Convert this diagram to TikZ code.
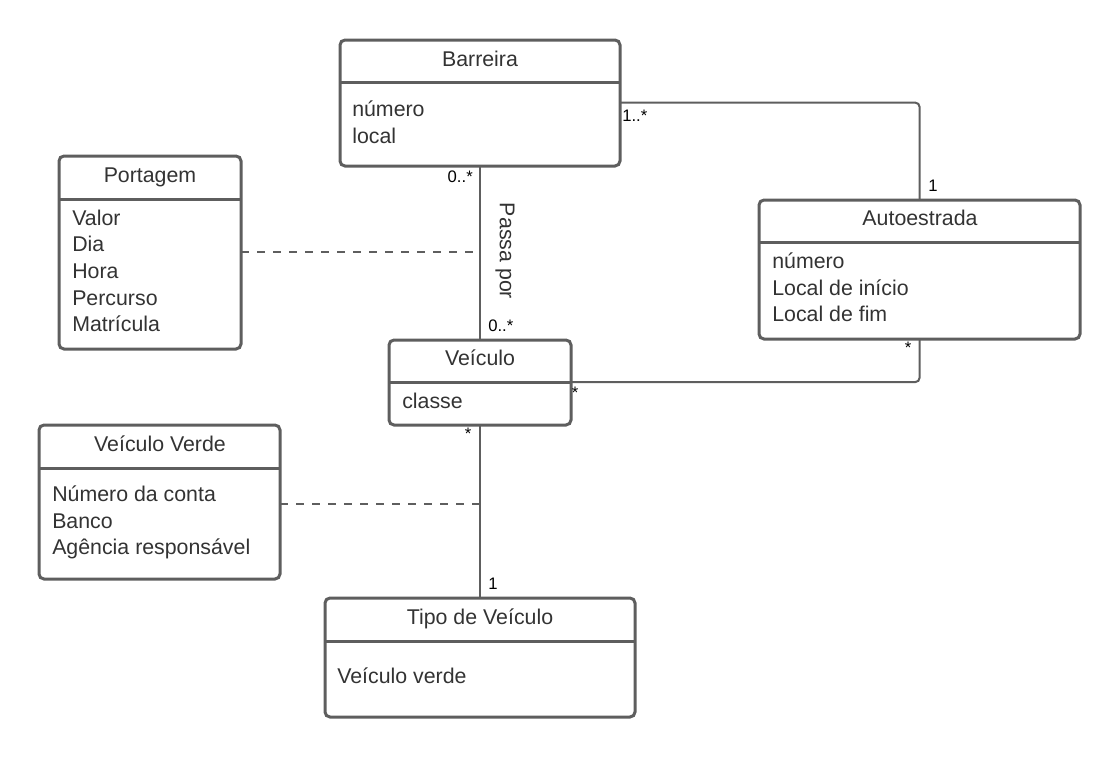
\documentclass[tikz,border=0pt]{standalone}
\usepackage{fontspec}
\setmainfont{Liberation Sans}
\definecolor{linec}{HTML}{5E5E5E}
\definecolor{textc}{HTML}{333333}
\begin{document}
\begin{tikzpicture}[x=0.75pt,y=-0.75pt,
  boxst/.style={draw=linec, line width=2.25pt, rounded corners=3.75pt, fill=white,
     inner sep=0pt, outer sep=0pt, anchor=north west},
  divst/.style={draw=linec, line width=2.25pt},
  conn/.style={draw=linec, line width=1.5pt},
  dashconn/.style={draw=linec, line width=1.5pt, dash pattern=on 6pt off 6pt},
  ttl/.style={text=textc, font=\fontsize{16}{20}\selectfont, anchor=base, inner sep=0pt},
  attr/.style={text=textc, font=\fontsize{16}{20.25}\selectfont, anchor=base west, inner sep=0pt},
  mult/.style={text=black, font=\fontsize{12.5}{15}\selectfont, inner sep=0pt}
]
\useasboundingbox (0,0) rectangle (1120,758);
\fill[white] (0,0) rectangle (1120,758);

% ---------- boxes ----------
\node[boxst, minimum width={280*0.75pt}, minimum height={126*0.75pt}] (barreira) at (340,40) {};
\node[boxst, minimum width={182*0.75pt}, minimum height={193*0.75pt}] (portagem) at (59,156) {};
\node[boxst, minimum width={321*0.75pt}, minimum height={139*0.75pt}] (auto) at (759,200) {};
\node[boxst, minimum width={182*0.75pt}, minimum height={85*0.75pt}] (veiculo) at (389,340) {};
\node[boxst, minimum width={241*0.75pt}, minimum height={154*0.75pt}] (verde) at (39,425) {};
\node[boxst, minimum width={310*0.75pt}, minimum height={119*0.75pt}] (tipo) at (325,598) {};

% dividers
\draw[divst] (barreira.north west) ++(0,42) -- ++(280,0);
\draw[divst] (portagem.north west) ++(0,43) -- ++(182,0);
\draw[divst] (auto.north west) ++(0,42) -- ++(321,0);
\draw[divst] (veiculo.north west) ++(0,42) -- ++(182,0);
\draw[divst] (verde.north west) ++(0,43) -- ++(241,0);
\draw[divst] (tipo.north west) ++(0,43) -- ++(310,0);

% ---------- texts ----------
\node[ttl] (tb) at (480,66) {Barreira};
\node[attr] (b1) at (352,116) {número};
\node[attr] (b2) at (352,143) {local};

\node[ttl] (tp) at (150,182) {Portagem};
\node[attr] (p1) at (72,225) {Valor};
\node[attr] (p2) at (72,251.5) {Dia};
\node[attr] (p3) at (72,278) {Hora};
\node[attr] (p4) at (72,305) {Percurso};
\node[attr] (p5) at (72,331.5) {Matrícula};

\node[ttl] (ta) at (920,225) {Autoestrada};
\node[attr] (a1) at (772,268) {número};
\node[attr] (a2) at (772,295) {Local de início};
\node[attr] (a3) at (772,321) {Local de fim};

\node[ttl] (tv) at (480,365) {Veículo};
\node[attr] (v1) at (402,408) {classe};

\node[ttl] (tvv) at (160,451) {Veículo Verde};
\node[attr] (vv1) at (52,501.5) {Número da conta};
\node[attr] (vv2) at (52,528) {Banco};
\node[attr] (vv3) at (52,554) {Agência responsável};

\node[ttl] (tt) at (480,624) {Tipo de Veículo};
\node[attr] (t1) at (337,683) {Veículo verde};

% ---------- connectors ----------
\coordinate (bauto) at ([yshift={-62.7*0.75pt}]barreira.north east);
\draw[conn, rounded corners=3pt] (bauto) -| (auto.north);
\draw[conn] (barreira.south -| 480,0) -- (veiculo.north -| 480,0);
\coordinate (vauto) at ([yshift={-42*0.75pt}]veiculo.north east);
\draw[conn, rounded corners=3pt] (vauto) -| (auto.south);
\draw[conn] (veiculo.south -| 480,0) -- (tipo.north -| 480,0);

\coordinate (passmid) at (480,252);
\coordinate (verdemid) at (480,503.5);
\draw[dashconn] (portagem.east |- passmid) -- (passmid);
\draw[dashconn] (verde.east |- verdemid) -- (verdemid);

% ---------- labels ----------
\node[mult, anchor=west] (m1) at (622,116) {1..*};
\node[mult, anchor=west] (m2) at (928,186) {1};
\node[mult, anchor=east] (m3) at (473,177) {0..*};
\node[mult, anchor=west] (m4) at (488,326) {0..*};
\node[mult] (m5) at (575,393) {*};
\node[mult] (m6) at (908,348) {*};
\node[mult] (m7) at (468,434) {*};
\node[mult, anchor=west] (m8) at (488,584) {1};
\node[ttl, anchor=center, rotate=-90] (pp) at (505,251) {Passa por};
\end{tikzpicture}
\end{document}
